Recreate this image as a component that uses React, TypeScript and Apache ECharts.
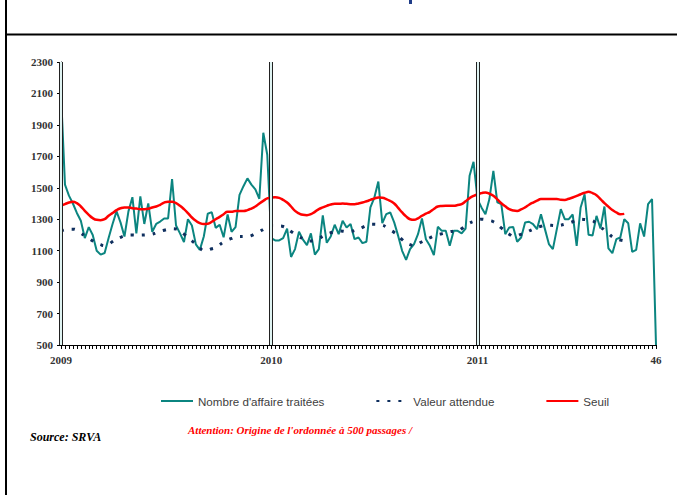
import React, { useEffect, useRef } from "react";
import * as echarts from "echarts";

// Weeks: 2009 (53 ISO weeks), 2010 (52), 2011 (up to week 46)
const yearWeeks: [number, number][] = [[2009, 53], [2010, 52], [2011, 46]];
const categories: string[] = [];
yearWeeks.forEach(([y, n]) => {
  for (let w = 1; w <= n; w++) categories.push(`${y}-S${w}`);
});

const tickLabels: Record<number, string> = { 0: "2009", 53: "2010", 105: "2011", 150: "46" };
const yearStarts = [0, 53, 105];

const nombreAffaires = [
  2100, 1520, 1450, 1400, 1340, 1290, 1180, 1250, 1200, 1100,
  1075, 1085, 1180, 1270, 1350, 1280, 1190, 1350, 1440, 1210,
  1445, 1270, 1400, 1220, 1270, 1285, 1305, 1305, 1555, 1260,
  1210, 1155, 1300, 1260, 1140, 1105, 1190, 1335, 1345, 1245,
  1265, 1185, 1330, 1220, 1250, 1455, 1510, 1560, 1520, 1490,
  1430, 1850, 1710, 1180, 1165, 1165, 1180, 1240, 1060, 1110,
  1220, 1170, 1135, 1210, 1075, 1110, 1325, 1150, 1190, 1265,
  1205, 1290, 1248, 1269, 1173, 1184, 1148, 1157, 1375, 1438,
  1540, 1275, 1332, 1343, 1280, 1194, 1099, 1042, 1110, 1142,
  1205, 1305, 1173, 1131, 1072, 1252, 1226, 1226, 1131, 1226,
  1226, 1210, 1241, 1576, 1665, 1428, 1375, 1332, 1428, 1608,
  1407, 1396, 1205, 1248, 1250, 1157, 1184, 1279, 1284, 1269,
  1237, 1332, 1237, 1142, 1110, 1237, 1364, 1300, 1300, 1330,
  1131, 1375, 1459, 1201, 1196, 1321, 1241, 1381, 1114, 1084,
  1173, 1184, 1300, 1274, 1092, 1105, 1274, 1190, 1396, 1428,
  500,
];

const valeurAttendue = [
  1226, 1232, 1236, 1237, 1230, 1212, 1195, 1178, 1162, 1148,
  1138, 1131, 1140, 1158, 1173, 1185, 1194, 1199, 1200, 1199,
  1199, 1200, 1202, 1205, 1214, 1222, 1230, 1236, 1240, 1238,
  1222, 1205, 1183, 1162, 1142, 1118, 1101, 1104, 1112, 1120,
  1138, 1155, 1168, 1178, 1188, 1190, 1190, 1190, 1196, 1208,
  1220, 1236, 1252, 1262, 1262, 1258, 1254, 1240, 1222, 1205,
  1190, 1175, 1163, 1162, 1163, 1176, 1192, 1205, 1214, 1222,
  1226, 1224, 1221, 1222, 1228, 1235, 1248, 1260, 1268, 1268,
  1265, 1262, 1250, 1232, 1216, 1195, 1170, 1150, 1138, 1131,
  1142, 1157, 1169, 1182, 1194, 1202, 1208, 1215, 1220, 1224,
  1226, 1240, 1258, 1275, 1286, 1295, 1300, 1297, 1292, 1284,
  1266, 1245, 1225, 1205, 1192, 1195, 1204, 1212, 1225, 1237,
  1248, 1255, 1261, 1262, 1260, 1258, 1262, 1268, 1275, 1284,
  1293, 1300, 1298, 1294, 1290, 1270, 1250, 1232, 1210, 1188,
  1175, 1168, 1163,
];

const seuil = [
  1385, 1396, 1406, 1411, 1402, 1381, 1353, 1328, 1307, 1296,
  1294, 1300, 1322, 1339, 1358, 1370, 1375, 1375, 1370, 1368,
  1364, 1364, 1366, 1375, 1381, 1392, 1406, 1411, 1411, 1402,
  1385, 1364, 1339, 1311, 1290, 1275, 1269, 1271, 1284, 1300,
  1315, 1332, 1347, 1347, 1353, 1353, 1353, 1358, 1368, 1381,
  1400, 1417, 1432, 1438, 1440, 1436, 1423, 1406, 1381, 1353,
  1337, 1328, 1326, 1332, 1347, 1364, 1375, 1385, 1394, 1398,
  1398, 1400, 1398, 1396, 1396, 1400, 1406, 1414, 1423, 1432,
  1438, 1436, 1428, 1416, 1400, 1372, 1343, 1318, 1300, 1296,
  1306, 1322, 1335, 1347, 1365, 1381, 1384, 1385, 1385, 1385,
  1390, 1396, 1414, 1434, 1448, 1459, 1466, 1470, 1462, 1449,
  1426, 1402, 1382, 1364, 1356, 1353, 1362, 1375, 1392, 1406,
  1418, 1428, 1428, 1428, 1428, 1428, 1424, 1423, 1430, 1438,
  1448, 1459, 1468, 1474, 1466, 1453, 1428, 1402, 1380, 1358,
  1343, 1332, 1334,
];

const TEAL = "#0B8580";
const NAVY = "#0F2F5E";
const RED = "#FF0000";

export default function App() {
  const ref = useRef<HTMLDivElement>(null);
  useEffect(() => {
    if (!ref.current) return;
    const chart = echarts.init(ref.current, undefined, { renderer: "svg" });
    const axisFont = {
      fontFamily: "Liberation Serif",
      fontWeight: "bold" as const,
      fontSize: 11,
      color: "#333",
    };
    chart.setOption({
      animation: false,
      backgroundColor: "#fff",
      grid: { left: 61, right: 21, top: 62, bottom: 150, containLabel: false },
      xAxis: {
        type: "category",
        data: categories,
        boundaryGap: false,
        axisLine: { show: true, lineStyle: { color: "#000", width: 1 } },
        axisTick: { show: true, interval: 0, length: 4, lineStyle: { color: "#000" } },
        axisLabel: {
          ...axisFont,
          interval: (idx: number) => tickLabels[idx] !== undefined,
          formatter: (_v: string, idx: number) => tickLabels[idx] ?? "",
          margin: 9,
        },
        splitLine: { show: false },
      },
      yAxis: {
        type: "value",
        min: 500,
        max: 2300,
        interval: 200,
        axisLine: { show: true, lineStyle: { color: "#000", width: 1 } },
        axisTick: { show: true, length: 4, lineStyle: { color: "#000" } },
        axisLabel: { ...axisFont, margin: 8, formatter: (v: number) => String(v) },
        splitLine: { show: false },
      },
      legend: {
        data: ["Nombre d'affaire traitées", "Valeur attendue", "Seuil"],
        left: 155,
        top: 390,
        itemWidth: 32,
        itemHeight: 14,
        itemGap: 51,
        itemStyle: { opacity: 0 },
        textStyle: { fontFamily: "Liberation Sans", fontSize: 11.6, color: "#404040" },
      },
      series: [
        {
          name: "Vertical",
          type: "line",
          data: [],
          silent: true,
          markLine: {
            silent: true,
            symbol: "none",
            label: { show: false },
            lineStyle: { color: "#222", width: 4, type: "solid" },
            data: yearStarts.map((i) => ({ xAxis: i })),
          },
        },
        {
          name: "Vertical2",
          type: "line",
          data: [],
          silent: true,
          markLine: {
            silent: true,
            symbol: "none",
            label: { show: false },
            lineStyle: { color: "#dff3f2", width: 2, type: "solid" },
            data: yearStarts.map((i) => ({ xAxis: i })),
          },
        },
        {
          name: "Nombre d'affaire traitées",
          type: "line",
          data: nombreAffaires,
          symbol: "none",
          smooth: false,
          lineStyle: { color: TEAL, width: 2 },
          itemStyle: { color: TEAL },
        },
        {
          name: "Valeur attendue",
          type: "line",
          data: valeurAttendue,
          symbol: "none",
          smooth: true,
          lineStyle: { color: NAVY, width: 3, type: [3, 8], cap: "butt" },
          itemStyle: { color: NAVY },
        },
        {
          name: "Seuil",
          type: "line",
          data: seuil,
          symbol: "none",
          smooth: true,
          lineStyle: { color: RED, width: 2.5 },
          itemStyle: { color: RED },
        },
      ],
      graphic: [
        { type: "line", shape: { x1: 6, y1: 0, x2: 6, y2: 495 }, style: { stroke: "#000", lineWidth: 2 } },
        { type: "line", shape: { x1: 6, y1: 34.5, x2: 677, y2: 34.5 }, style: { stroke: "#000", lineWidth: 2 } },
        { type: "rect", shape: { x: 409, y: 0, width: 3, height: 4 }, style: { fill: "#1F3C88" } },
        {
          type: "text",
          x: 30,
          y: 437,
          style: {
            text: "Source: SRVA",
            font: "italic bold 12px 'Liberation Serif'",
            fill: "#000",
            verticalAlign: "middle",
          },
        },
        {
          type: "text",
          x: 188,
          y: 430,
          style: {
            text: "Attention: Origine de l'ordonnée à 500 passages /",
            font: "italic bold 11px 'Liberation Serif'",
            fill: "#FF0000",
            verticalAlign: "middle",
          },
        },
      ],
    });
    return () => chart.dispose();
  }, []);
  return (
    <div
      ref={ref}
      style={{ position: "absolute", left: 0, top: 0, width: 677, height: 495 }}
    />
  );
}
